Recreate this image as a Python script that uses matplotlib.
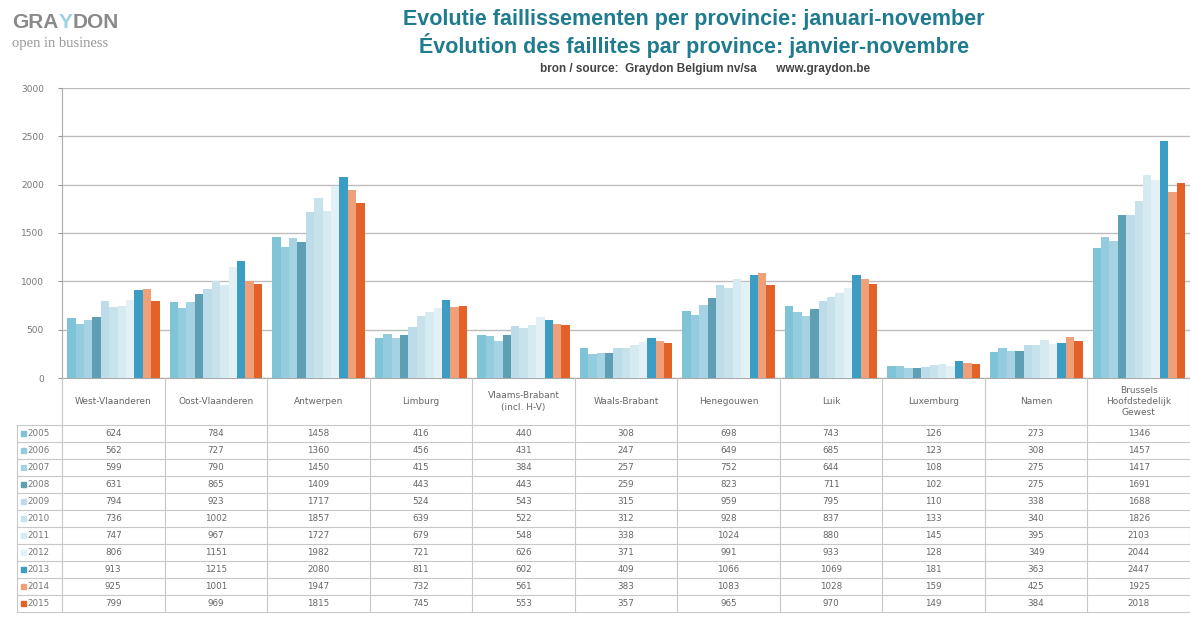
import numpy as np
import matplotlib.pyplot as plt
from matplotlib.lines import Line2D
from matplotlib.patches import Rectangle

# data
provinces = ["West-Vlaanderen", "Oost-Vlaanderen", "Antwerpen", "Limburg",
             "Vlaams-Brabant\n(incl. H-V)", "Waals-Brabant", "Henegouwen", "Luik",
             "Luxemburg", "Namen", "Brussels\nHoofdstedelijk\nGewest"]
years = ["2005", "2006", "2007", "2008", "2009", "2010",
         "2011", "2012", "2013", "2014", "2015"]
v2005 = [624, 784, 1458, 416, 440, 308, 698, 743, 126, 273, 1346]
v2006 = [562, 727, 1360, 456, 431, 247, 649, 685, 123, 308, 1457]
v2007 = [599, 790, 1450, 415, 384, 257, 752, 644, 108, 275, 1417]
v2008 = [631, 865, 1409, 443, 443, 259, 823, 711, 102, 275, 1691]
v2009 = [794, 923, 1717, 524, 543, 315, 959, 795, 110, 338, 1688]
v2010 = [736, 1002, 1857, 639, 522, 312, 928, 837, 133, 340, 1826]
v2011 = [747, 967, 1727, 679, 548, 338, 1024, 880, 145, 395, 2103]
v2012 = [806, 1151, 1982, 721, 626, 371, 991, 933, 128, 349, 2044]
v2013 = [913, 1215, 2080, 811, 602, 409, 1066, 1069, 181, 363, 2447]
v2014 = [925, 1001, 1947, 732, 561, 383, 1083, 1028, 159, 425, 1925]
v2015 = [799, 969, 1815, 745, 553, 357, 965, 970, 149, 384, 2018]
series = [v2005, v2006, v2007, v2008, v2009, v2010,
          v2011, v2012, v2013, v2014, v2015]

colors = ["#7fc3d6", "#93cbdf", "#a5d3e3", "#5f9fb3", "#bbdce8", "#c8e2ec",
          "#d5eaf1", "#e3f1f6", "#3b9cc4", "#f0a078", "#e2622a"]

W, H = 1190, 618
fig = plt.figure(figsize=(W / 100, H / 100), dpi=100)

def fx(px):
    return px / W

def fy(py):
    return 1 - py / H

ax_l, ax_r, ax_t, ax_b = 62, 1190, 88, 378
ax = fig.add_axes([fx(ax_l), fy(ax_b), fx(ax_r - ax_l), fy(ax_t) - fy(ax_b)])

n = len(provinces)
x = np.arange(n)
bw = 0.082
for i, (vals, c) in enumerate(zip(series, colors)):
    ax.bar(x - 0.45 + bw / 2 + i * bw, vals, width=bw, color=c, linewidth=0, zorder=3)

ax.set_xlim(-0.5, n - 0.5)
ax.set_ylim(0, 3000)
ax.set_yticks(np.arange(0, 3001, 500))
ax.set_yticklabels([str(t) for t in range(0, 3001, 500)], fontsize=6.5, color="#777777")
ax.tick_params(axis="y", length=3, color="#999999", pad=10)
ax.set_xticks([])
ax.grid(axis="y", color="#bdbdbd", linewidth=1, zorder=0)
for s in ["top", "right"]:
    ax.spines[s].set_visible(False)
ax.spines["left"].set_color("#aaaaaa")
ax.spines["bottom"].set_color("#aaaaaa")

# table below the plot
col_w = (ax_r - ax_l) / n
hdr_b = 425
row_h = 17.0
tbl_b = hdr_b + row_h * len(years)
gc = "#c8c8c8"

def hline(y, x0, x1):
    fig.add_artist(Line2D([fx(x0), fx(x1)], [fy(y), fy(y)], color=gc, linewidth=0.8))

def vline(xp, y0, y1):
    fig.add_artist(Line2D([fx(xp), fx(xp)], [fy(y0), fy(y1)], color=gc, linewidth=0.8))

for k in range(n + 1):
    vline(ax_l + k * col_w, ax_b, tbl_b)
vline(17, hdr_b, tbl_b)
for r in range(len(years) + 1):
    hline(hdr_b + r * row_h, 17, ax_r)

for k, p in enumerate(provinces):
    fig.text(fx(ax_l + (k + 0.5) * col_w), fy((ax_b + hdr_b) / 2), p,
             ha="center", va="center", fontsize=6.5, color="#666666", linespacing=1.3)

for r, (yr, vals, c) in enumerate(zip(years, series, colors)):
    yc = fy(hdr_b + (r + 0.5) * row_h)
    fig.add_artist(Rectangle((fx(21), yc - 2.0 / H), 4.5 / W, 4.5 / H, color=c,
                             transform=fig.transFigure))
    fig.text(fx(27), yc, yr, ha="left", va="center", fontsize=6.3, color="#777777")
    for k, v in enumerate(vals):
        fig.text(fx(ax_l + (k + 0.5) * col_w), yc, str(v), ha="center", va="center",
                 fontsize=6.3, color="#666666")

# titles and logo
tc = "#1f7b8e"
fig.text(fx(694), fy(19), "Evolutie faillissementen per provincie: januari-november",
         ha="center", va="center", fontsize=15.5, fontweight="bold", color=tc,
         family="Liberation Sans")
fig.text(fx(694), fy(45), "Évolution des faillites par province: janvier-novembre",
         ha="center", va="center", fontsize=15.5, fontweight="bold", color=tc,
         family="Liberation Sans")
fig.text(fx(705), fy(69), "bron / source:  Graydon Belgium nv/sa      www.graydon.be",
         ha="center", va="center", fontsize=8.5, fontweight="bold", color="#444444",
         family="Liberation Sans")

# logo: draw letters one after another using measured widths
renderer = fig.canvas.get_renderer()
xpos = fx(12)
for part, col in [("GRA", "#8a8a8a"), ("Y", "#9fcfe3"), ("DON", "#8a8a8a")]:
    t = fig.text(xpos, fy(22), part, ha="left", va="center", fontsize=15,
                 fontweight="bold", color=col, family="Liberation Sans")
    bb = t.get_window_extent(renderer)
    xpos += bb.width / W
fig.text(fx(12), fy(44), "open in business", ha="left", va="center", fontsize=10.5,
         color="#999999", family="Liberation Serif")

fig.savefig("out.png", dpi=100)
